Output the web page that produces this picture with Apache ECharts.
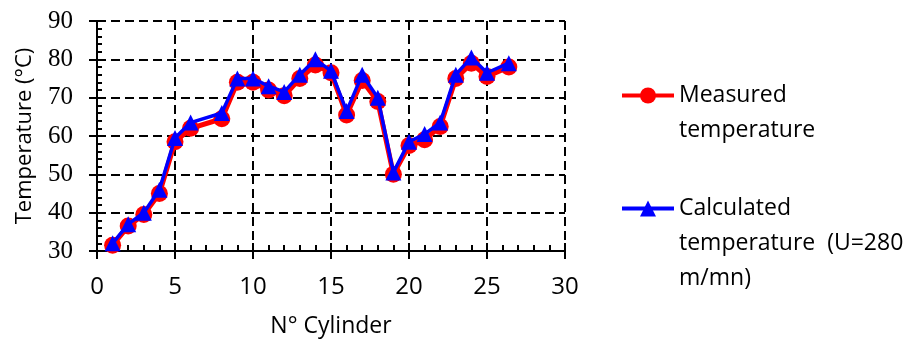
<!DOCTYPE html>
<html>
<head>
<meta charset="utf-8">
<script src="https://cdn.jsdelivr.net/npm/echarts@6/dist/echarts.min.js"></script>
<style>
  html, body { margin: 0; padding: 0; background: #fff; }
  .main { width: 911px; height: 343px; }
</style>
</head>
<body>
<div class="main" id="main"></div>
<script>
// cylinder number (no. 7 is missing in the source)
var cylinders = [1, 2, 3, 4, 5, 6, 8, 9, 10, 11, 12, 13, 14, 15, 16, 17, 18, 19, 20, 21, 22, 23, 24, 25, 26.4];
var measured = [31.5, 36.5, 39.5, 45, 58.5, 62, 64.5, 74, 74, 72, 70.5, 75, 78.5, 76.5, 65.5, 74.5, 69, 50, 57.5, 59, 62.5, 75, 79, 75.5, 78];
var calculated = [32, 37, 40, 46, 59.5, 63.5, 66, 75, 75, 73, 71.5, 76, 80, 77, 66.5, 76, 70, 50.5, 58.5, 60.5, 63.5, 76, 80.5, 76.5, 79];

function pairs(ys) {
  return cylinders.map(function (x, i) { return [x, ys[i]]; });
}

var sans = '"Open Sans", "Noto Sans", sans-serif';
var dashed = { color: '#000', width: 2, type: [9, 5] };
var black2 = { color: '#000', width: 2 };

// legend text: empty lines in front so the first real line sits beside the icon
function legendBox(top, name, blanks, lineW) {
  return {
    left: 620, top: top, padding: 0, orient: 'vertical',
    itemWidth: 52, itemHeight: 20,
    data: [name],
    lineStyle: { width: lineW },
    formatter: function (n) { return blanks + n; },
    textStyle: { fontFamily: sans, fontSize: 23, color: '#000', lineHeight: 35 }
  };
}

var myChart = echarts.init(document.getElementById('main'));
var option = {
  animation: false,
  grid: { left: 97, right: 346, top: 21, bottom: 92, containLabel: false },
  legend: [
    legendBox(43, 'Measured\ntemperature', '\n', 4),
    legendBox(121, 'Calculated\ntemperature  (U=280\nm/mn)', '\n\n', 4)
  ],
  xAxis: [{
    type: 'value', min: 0, max: 30, interval: 5,
    name: 'N° Cylinder', nameLocation: 'middle', nameGap: 64,
    nameTextStyle: { fontFamily: sans, fontSize: 23, color: '#000' },
    axisLine: { onZero: false, lineStyle: black2 },
    axisTick: { inside: false, length: 8, lineStyle: black2 },
    axisLabel: { fontFamily: sans, fontSize: 24, color: '#000', margin: 24 },
    splitLine: { show: true, lineStyle: dashed }
  }, {
    // same scale, only the inner ticks
    type: 'value', min: 0, max: 30, interval: 5, position: 'bottom',
    axisLine: { show: false },
    axisTick: { inside: true, length: 8, lineStyle: black2 },
    minorTick: { show: true, splitNumber: 5, length: 6, lineStyle: black2 },
    axisLabel: { show: false },
    splitLine: { show: false }
  }],
  yAxis: [{
    type: 'value', min: 30, max: 90, interval: 10,
    name: 'Temperature (°C)', nameLocation: 'middle', nameGap: 61,
    nameTextStyle: { fontFamily: sans, fontSize: 22, color: '#000' },
    axisLine: { onZero: false, lineStyle: black2 },
    axisTick: { inside: false, length: 8, lineStyle: black2 },
    axisLabel: { fontFamily: '"Liberation Serif", serif', fontSize: 25, color: '#000', margin: 24 },
    splitLine: { show: true, lineStyle: dashed }
  }, {
    type: 'value', min: 30, max: 90, interval: 10, position: 'left',
    axisLine: { show: false },
    axisTick: { inside: true, length: 9, lineStyle: black2 },
    minorTick: { show: true, splitNumber: 5, length: 5, lineStyle: black2 },
    axisLabel: { show: false },
    splitLine: { show: false }
  }],
  series: [{
    name: 'Measured\ntemperature',
    type: 'line',
    data: pairs(measured),
    symbol: 'circle', symbolSize: 17,
    itemStyle: { color: '#ff0000' },
    lineStyle: { color: '#ff0000', width: 5 },
    z: 2
  }, {
    name: 'Calculated\ntemperature  (U=280\nm/mn)',
    type: 'line',
    data: pairs(calculated),
    symbol: 'triangle', symbolSize: 16,
    itemStyle: { color: '#0000ff' },
    lineStyle: { color: '#0000ff', width: 3.5 },
    z: 3
  }]
};
myChart.setOption(option);
</script>
</body>
</html>
